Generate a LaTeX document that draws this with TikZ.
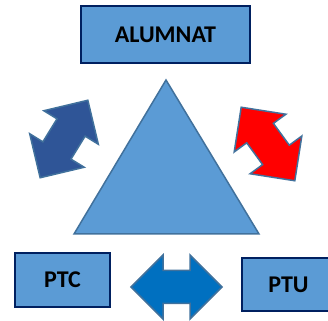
\documentclass[tikz,border=0pt]{standalone}
\usepackage{fontspec}
\setmainfont{Carlito}
\usepackage{xcolor}
\usepackage{tikz}

\definecolor{boxfill}{HTML}{5B9BD5}
\definecolor{boxline}{HTML}{002060}
\definecolor{edgeblue}{HTML}{41719C}
\definecolor{darkarrow}{HTML}{2F5597}
\definecolor{midarrow}{HTML}{0070C0}

\begin{document}
\begin{tikzpicture}[x=1pt, y=1pt,
    rolebox/.style={draw=boxline, line width=2pt, fill=boxfill, inner sep=0pt,
        font=\fontsize{24}{24}\selectfont\bfseries},
    pics/dblarrow/.style={code={
        \filldraw[line width=1.5pt, draw=edgeblue, line join=miter, pic actions]
            (-45.5,0) -- (-13.5,32) -- (-13.5,16.5) -- (13.5,16.5) -- (13.5,32)
            -- (45.5,0) -- (13.5,-32) -- (13.5,-16.5) -- (-13.5,-16.5)
            -- (-13.5,-32) -- cycle;
    }}]
    \clip (0,0) rectangle (328,320);

    % Central triangle
    \filldraw[fill=boxfill, draw=edgeblue, line width=1.5pt]
        (74,86) -- (166,240) -- (259,86) -- cycle;

    % Role boxes
    \node[rolebox, minimum width=169pt, minimum height=57pt] (alumnat) at (165.5,285.5) {ALUMNAT};
    \node[rolebox, minimum width=95pt, minimum height=54pt] (ptc) at (62.5,40) {PTC};
    \node[rolebox, minimum width=93pt, minimum height=53pt] (ptu) at (288.5,35.5) {PTU};

    % Double arrows
    \pic[fill=darkarrow, rotate=58.4] at (64,181) {dblarrow};
    \pic[fill=red, rotate=-53.9] at (268,176) {dblarrow};
    \pic[fill=midarrow] at (176.5,33) {dblarrow};
\end{tikzpicture}
\end{document}
